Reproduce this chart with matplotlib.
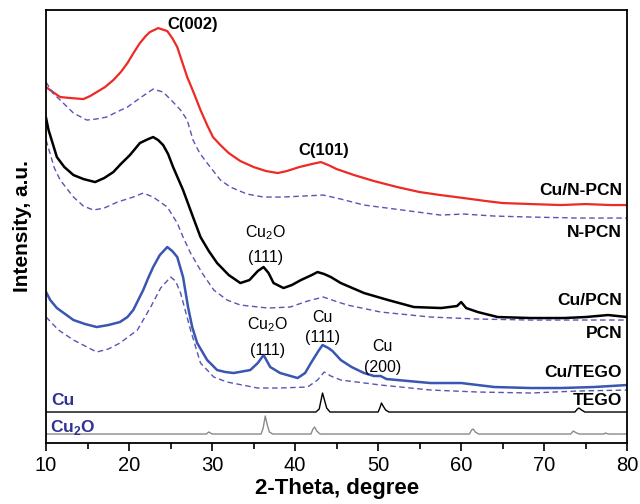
import matplotlib
matplotlib.use('Agg')
import matplotlib.pyplot as plt
from matplotlib.ticker import MultipleLocator

plt.rcParams['font.family'] = ['Liberation Sans', 'DejaVu Sans']

# --- data (2-theta in degree, intensity in offset a.u.) ---
cu_npcn_x = [10, 11, 11.7, 13, 14.5, 15.3, 16.1, 17.1, 18.1, 19, 19.8, 20.6, 21.3, 22, 22.5, 23.5,
             24.6, 25.2, 25.8, 26.4, 27, 27.8, 28.6, 29.4, 30.1, 31, 32, 33.4, 35, 36.5, 37.9,
             39, 40.5, 42, 43.1, 44, 45, 47.1, 49.5, 52.3, 55, 57.5, 60.3, 63, 65, 68.4, 72,
             75, 78, 80]
cu_npcn_y = [356, 350, 346, 345, 344, 347, 351, 356, 363, 371, 380, 391, 400, 407, 411, 415,
             412, 405, 396, 381, 366, 350, 333, 318, 306, 298, 290, 282, 276, 272, 270,
             272, 276, 279, 281, 278, 274, 268, 262, 256, 251, 248, 245, 242, 240, 239, 238,
             239, 238, 238]

npcn_x = [10, 10.8, 11.7, 13.3, 14.9, 16, 17.3, 18.5, 19.8, 21.3, 22.9, 24.1, 25.3, 26.2, 27,
          27.7, 28.5, 29.4, 31, 32.2, 34.2, 36.2, 38.5, 41, 43.4, 45.5, 48.3, 52, 57.5, 60.3,
          64, 68.4, 74, 80]
npcn_y = [361, 350, 343, 330, 323, 324, 326, 331, 336, 345, 354, 351, 341, 333, 323,
          303, 290, 280, 263, 256, 249, 246, 246, 247, 248, 244, 238, 234, 228, 229,
          227, 226, 225, 225]

cu_pcn_x = [10, 10.3, 11.3, 12.2, 13.3, 14.5, 15.9, 17, 18.1, 19, 20.1, 21.3, 22.3, 22.9, 23.5,
            24.1, 24.7, 25.3, 26.5, 27.7, 28.6, 29.6, 30.6, 32, 33.4, 34.5, 35.5, 36.2, 36.8,
            37.4, 38.6, 39.6, 40.7, 42, 42.7, 43.5, 44.3, 45.5, 48.3, 51.2, 54.3, 57.6, 59.5,
            60, 60.6, 62, 64.4, 68.4, 72.4, 75, 77.7, 80]
cu_pcn_y = [325, 313, 286, 276, 268, 264, 261, 265, 271, 279, 288, 300, 304, 306, 303,
            298, 289, 276, 253, 226, 206, 192, 180, 168, 160, 163, 172, 176, 170,
            160, 155, 158, 163, 168, 171, 169, 166, 160, 150, 143, 136, 135, 137,
            141, 135, 131, 126, 125, 125, 126, 128, 126]

pcn_x = [10, 11, 11.7, 13.3, 14.5, 15.7, 17, 18.6, 20.5, 21.7, 22.9, 24.6, 25.8, 26.5, 27.4,
         28.8, 30.2, 31.8, 33.4, 36.7, 39.4, 41.5, 43.4, 44.8, 46.3, 50.3, 56.3, 62, 68.4,
         74, 80]
pcn_y = [303, 275, 263, 246, 237, 233, 235, 241, 246, 250, 246, 236, 220, 206, 190,
         170, 153, 143, 138, 135, 136, 142, 146, 142, 138, 131, 126, 124, 123,
         123, 123]

cu_tego_x = [10, 10.5, 11.3, 13.3, 14.7, 16.1, 17.5, 18.9, 19.8, 20.5, 21.1, 21.7, 22.3, 22.9,
             23.7, 24.6, 25.2, 25.8, 26.5, 27.1, 27.6, 28.2, 29.4, 30.6, 31.6, 32.6, 34.6, 35.5,
             36.2, 37, 38.2, 40.3, 41.2, 41.9, 42.8, 43.3, 44, 44.5, 45.5, 46.8, 48.3, 49.5,
             50.3, 51, 52.3, 56.3, 60, 64, 68.4, 72, 76, 80]
cu_tego_y = [151, 143, 135, 123, 119, 116, 118, 121, 126, 133, 143, 153, 165, 176,
             188, 196, 192, 186, 166, 136, 116, 100, 83, 73, 71, 70, 73, 80,
             88, 76, 70, 65, 70, 80, 92, 98, 95, 92, 83, 76, 70, 67,
             67, 64, 63, 60, 60, 56, 55, 55, 56, 58]

tego_x = [10, 11.5, 13.3, 16.1, 17.5, 18.9, 21, 22.6, 23.8, 25, 25.6, 26.2, 27.4, 28.6, 30.2,
          31.8, 35.5, 38, 41.5, 42.7, 43.5, 44.3, 45.5, 50.3, 56.3, 62, 68.4, 74, 80]
tego_y = [126, 113, 103, 91, 94, 100, 113, 136, 155, 166, 162, 150, 113, 80, 66,
          61, 55, 55, 56, 63, 71, 67, 63, 58, 53, 51, 50, 52, 53]

# reference patterns (stick-like peaks)
cu_ref_x = [10, 42.5, 42.9, 43.15, 43.3, 43.5, 43.8, 44.2, 50.0, 50.2, 50.4, 50.6, 50.9, 51.3,
            73.7, 74.0, 74.2, 74.5, 74.9, 80]
cu_ref_y = [31, 31, 34, 44, 50, 44, 35, 31, 31, 35, 40, 37, 33, 31,
            31, 34, 35, 33, 31, 31]

cu2o_ref_x = [10, 29.3, 29.6, 30.0, 35.9, 36.15, 36.4, 36.65, 36.9, 37.3, 41.9, 42.15, 42.35,
              42.6, 43.0, 61.0, 61.25, 61.45, 61.7, 62.1, 73.2, 73.5, 73.8, 74.2, 77.2, 77.4,
              77.7, 80]
cu2o_ref_y = [9, 9, 11, 9, 9, 15, 27, 18, 11, 9, 9, 14, 16,
              12, 9, 9, 13, 14, 11, 9, 9, 12, 10.5, 9, 9, 10,
              9, 9]

sample_labels = ['Cu/N-PCN', 'N-PCN', 'Cu/PCN', 'PCN', 'Cu/TEGO', 'TEGO']
sample_label_y = [253, 211, 143, 110, 71, 43]

red = '#ee2a24'
blue = '#3a55b2'
dash_col = '#5a54b4'
navy = '#2e3192'

fig = plt.figure(figsize=(6.4, 5.04), dpi=100)
ax = fig.add_axes([0.072, 0.121, 0.908, 0.859])

ax.plot(cu_npcn_x, cu_npcn_y, color=red, lw=1.6)
ax.plot(npcn_x, npcn_y, color=dash_col, lw=1.0, dashes=(4, 2.5))
ax.plot(cu_pcn_x, cu_pcn_y, color='black', lw=1.8)
ax.plot(pcn_x, pcn_y, color=dash_col, lw=1.0, dashes=(4, 2.5))
ax.plot(cu_tego_x, cu_tego_y, color=blue, lw=1.8)
ax.plot(tego_x, tego_y, color=dash_col, lw=1.0, dashes=(4, 2.5))
ax.plot(cu_ref_x, cu_ref_y, color='black', lw=1.0)
ax.plot(cu2o_ref_x, cu2o_ref_y, color='#8a8a8a', lw=1.0)

# sample names on the right
for lab, yy in zip(sample_labels, sample_label_y):
    ax.text(79.4, yy, lab, ha='right', va='center', fontsize=12.5, fontweight='bold')

# reference names
ax.text(10.6, 43, 'Cu', ha='left', va='center', fontsize=12.5, fontweight='bold', color=navy)
ax.text(10.5, 16, r'Cu$_\mathregular{2}$O', ha='left', va='center', fontsize=12.5,
        fontweight='bold', color=navy)

# peak annotations
ax.text(27.6, 419, 'C(002)', ha='center', va='center', fontsize=12, fontweight='bold')
ax.text(43.4, 293, 'C(101)', ha='center', va='center', fontsize=12, fontweight='bold')
ax.text(36.4, 210, r'Cu$_\mathregular{2}$O', ha='center', va='center', fontsize=11.5)
ax.text(36.4, 186, '(111)', ha='center', va='center', fontsize=11.5)
ax.text(36.7, 118, r'Cu$_\mathregular{2}$O', ha='center', va='center', fontsize=11.5)
ax.text(36.7, 93, '(111)', ha='center', va='center', fontsize=11.5)
ax.text(43.3, 126, 'Cu', ha='center', va='center', fontsize=11.5)
ax.text(43.3, 106, '(111)', ha='center', va='center', fontsize=11.5)
ax.text(50.5, 97, 'Cu', ha='center', va='center', fontsize=11.5)
ax.text(50.5, 76, '(200)', ha='center', va='center', fontsize=11.5)

ax.set_xlim(10, 80)
ax.set_ylim(0, 433)
ax.xaxis.set_major_locator(MultipleLocator(10))
ax.xaxis.set_minor_locator(MultipleLocator(5))
ax.tick_params(axis='x', which='major', direction='out', length=6, width=1.2, labelsize=14.5)
ax.tick_params(axis='x', which='minor', direction='out', length=4, width=1.2)
ax.set_yticks([])
for sp in ax.spines.values():
    sp.set_linewidth(1.3)

ax.set_xlabel('2-Theta, degree', fontsize=16, fontweight='bold', labelpad=2)
ax.set_ylabel('Intensity, a.u.', fontsize=15, fontweight='bold', labelpad=10)

fig.savefig('out.png', dpi=100)
